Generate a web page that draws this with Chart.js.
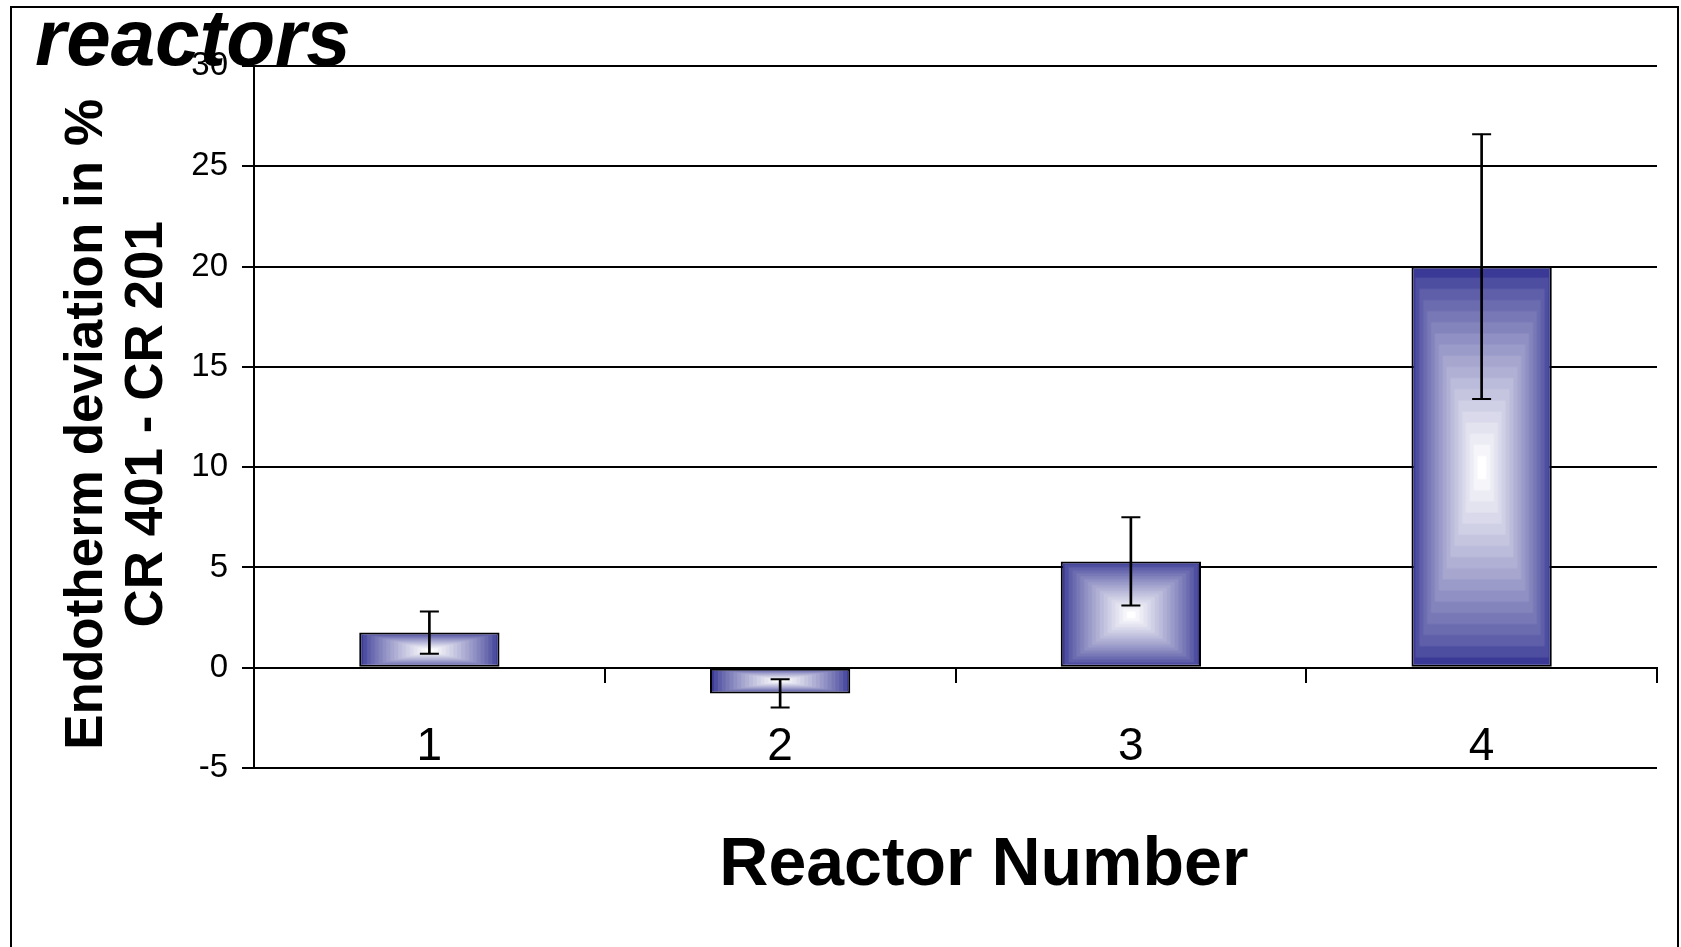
<!DOCTYPE html>
<html>
<head>
<meta charset="utf-8">
<title>Endotherm deviation</title>
<script src="https://cdn.jsdelivr.net/npm/chart.js@4.4.1/dist/chart.umd.min.js"></script>
<style>
    html, body { margin: 0; padding: 0; background: #fff; overflow: hidden; }
    #frame { position: absolute; left: 10px; top: 6px; width: 1669px; height: 990px; border: 2px solid #000; box-sizing: border-box; }
    #my-chart { position: absolute; left: 0; top: 0; }
</style>
</head>
<body>
<div id="frame"></div>
<canvas id="my-chart" width="1681" height="947"></canvas>
<script>
//chart data
//////////////////////////
const chartTitle = 'reactors'
const reactorLabels = ['1', '2', '3', '4']
const deviation = [1.75, -1.28, 5.3, 20.0]
const deviationError = [1.05, 0.7, 2.2, 6.6]
const yMin = -5
const yMax = 30
const yStep = 5

const fontFamily = '"Liberation Sans", Arial, Helvetica, sans-serif'
const edgeColor = [58, 58, 150]
const barPct = 0.4

//rectangular "from center" gradient, like the old Excel fill
//////////////////////////
function makeTile(w, h){
    let tile = document.createElement('canvas')
    tile.width = Math.ceil(w) + 6
    tile.height = Math.ceil(h) + 6
    let g = tile.getContext('2d')
    let steps = 18
    for (let i = 0; i < steps; i++){
        let t = Math.pow(i / (steps - 1), 0.8)
        let r = Math.round(edgeColor[0] + (255 - edgeColor[0]) * t)
        let gr = Math.round(edgeColor[1] + (255 - edgeColor[1]) * t)
        let b = Math.round(edgeColor[2] + (255 - edgeColor[2]) * t)
        let dx = 3 + (w / 2) * (i / steps)
        let dy = 3 + (h / 2) * (i / steps)
        g.fillStyle = `rgb(${r},${gr},${b})`
        if (i === 0){
            g.fillRect(0, 0, tile.width, tile.height)
        } else {
            g.fillRect(dx, dy, tile.width - 2 * dx, tile.height - 2 * dy)
        }
    }
    return tile
}

function barFill(context){
    let chart = context.chart
    let xScale = chart.scales.x
    let yScale = chart.scales.y
    let solid = `rgb(${edgeColor.join(',')})`
    if (context.dataIndex === undefined || !xScale || !yScale || !chart.chartArea) return solid
    let v = deviation[context.dataIndex]
    let w = (xScale.width / reactorLabels.length) * barPct
    let cx = xScale.getPixelForValue(context.dataIndex)
    let top = yScale.getPixelForValue(Math.max(v, 0))
    let bottom = yScale.getPixelForValue(Math.min(v, 0))
    let h = bottom - top
    if (!(w > 0) || !(h > 0)) return solid
    let pattern = chart.ctx.createPattern(makeTile(w, h), 'no-repeat')
    pattern.setTransform(new DOMMatrix().translate(cx - w / 2 - 3, top - 3))
    return pattern
}

//title left over from a longer heading, drawn behind everything
//////////////////////////
const cutTitle = {
    id: 'cutTitle',
    beforeDraw(chart){
        let ctx = chart.ctx
        ctx.save()
        ctx.font = 'italic bold 80px ' + fontFamily
        ctx.fillStyle = '#000'
        ctx.textBaseline = 'alphabetic'
        ctx.fillText(chartTitle, 35, 65)
        ctx.restore()
    }
}

//build the chart
//////////////////////////
let ctx = document.getElementById('my-chart').getContext('2d')

const data = {
    labels: reactorLabels,
    datasets: [
        {
            type: 'line',
            label: 'upper',
            data: deviation.map((v, i) => v + deviationError[i]),
            showLine: false,
            pointStyle: 'line',
            pointRadius: 9.5,
            pointBorderWidth: 2,
            pointBorderColor: '#000',
            order: 1
        },
        {
            type: 'line',
            label: 'lower',
            data: deviation.map((v, i) => v - deviationError[i]),
            showLine: false,
            pointStyle: 'line',
            pointRadius: 9.5,
            pointBorderWidth: 2,
            pointBorderColor: '#000',
            order: 1
        },
        {
            type: 'bar',
            label: 'stem',
            data: deviation.map((v, i) => [v - deviationError[i], v + deviationError[i]]),
            grouped: false,
            barThickness: 2,
            backgroundColor: '#000',
            borderWidth: 0,
            order: 2
        },
        {
            type: 'bar',
            label: 'Endotherm deviation',
            data: deviation,
            grouped: false,
            barPercentage: barPct,
            categoryPercentage: 1,
            backgroundColor: barFill,
            borderColor: '#000',
            borderWidth: 2,
            borderSkipped: false,
            order: 3
        }
    ]
}

const config = {
    type: 'bar',
    data: data,
    plugins: [cutTitle],
    options: {
        responsive: false,
        animation: false,
        devicePixelRatio: 1,
        layout: { padding: { top: 66, right: 24, bottom: 179, left: 0 } },
        plugins: {
            legend: { display: false },
            tooltip: { enabled: false }
        },
        scales: {
            x: {
                position: { y: 0 },
                offset: true,
                grid: { drawOnChartArea: false, offset: true, tickLength: 14, color: '#000', lineWidth: 2 },
                border: { display: true, color: '#000', width: 2 },
                ticks: { color: '#000', font: { size: 46, family: fontFamily }, padding: 38, maxRotation: 0 },
                title: {
                    display: true,
                    // leading spaces nudge the centred title right, as in the original
                    text: '   Reactor Number',
                    color: '#000',
                    font: { size: 68, weight: 'bold', family: fontFamily },
                    padding: 0
                },
                afterFit: function(scale){ scale.height = 239 }
            },
            y: {
                min: yMin,
                max: yMax,
                ticks: { stepSize: yStep, color: '#000', font: { size: 33, family: fontFamily }, padding: 14 },
                grid: { color: '#000', lineWidth: 2, tickLength: 12 },
                border: { color: '#000', width: 2 },
                title: {
                    display: true,
                    text: ['Endotherm deviation in % ', 'CR 401 - CR 201 '],
                    color: '#000',
                    font: { size: 53, weight: 'bold', family: fontFamily, lineHeight: 1.12 },
                    padding: { top: 58, bottom: 0 }
                },
                afterFit: function(scale){ scale.width = 254 }
            }
        }
    }
}

let chart = new Chart(ctx, config)
</script>
</body>
</html>
